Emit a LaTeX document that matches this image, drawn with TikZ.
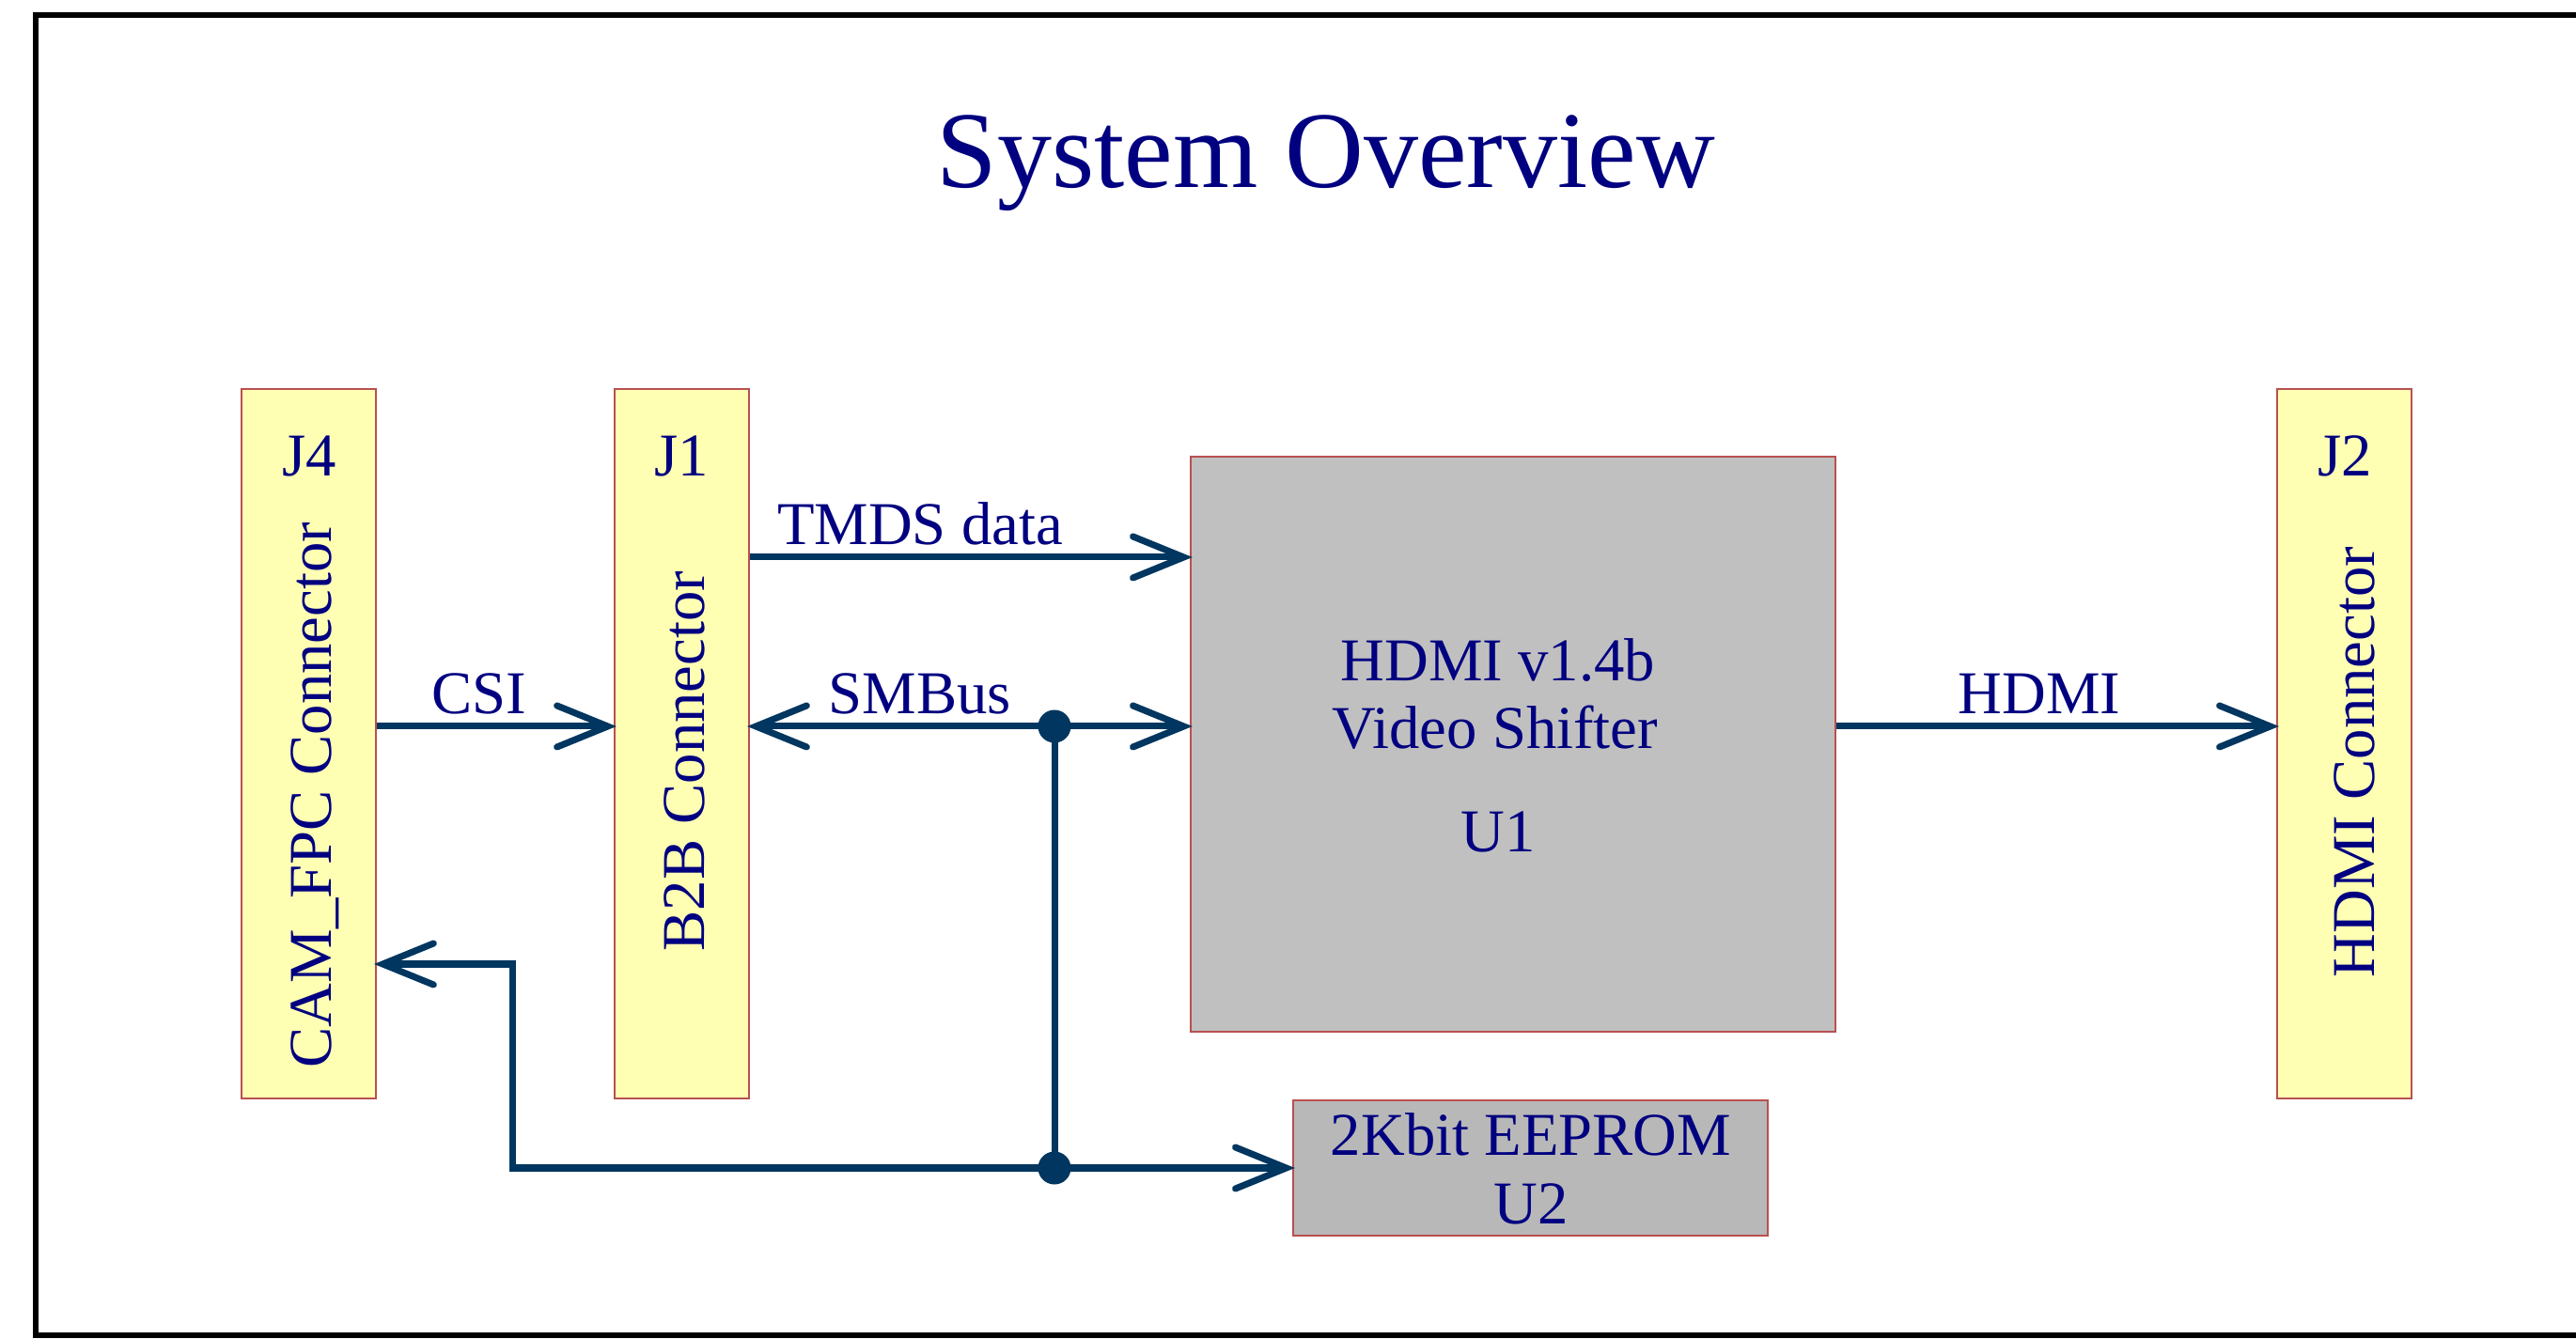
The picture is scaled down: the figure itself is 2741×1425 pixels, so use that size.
\documentclass[tikz,border=0pt]{standalone}
\usepackage{fontspec}
\setmainfont{Liberation Serif}
\usepackage{tikz}
\usetikzlibrary{arrows.meta, positioning, calc}

\definecolor{textnavy}{HTML}{000080}
\definecolor{wireblue}{HTML}{00365F}
\definecolor{connyellow}{HTML}{FFFFB4}
\definecolor{boxedge}{HTML}{B85050}
\definecolor{chipgray}{HTML}{C0C0C0}
\definecolor{romgray}{HTML}{B8B8B8}

\begin{document}
\begin{tikzpicture}[
            x=0.01cm, y=-0.01cm,
            >={Straight Barb[length=0.54cm, width=0.44cm, line cap=round]},
            connector/.style={rectangle, draw=boxedge, line width=0.02cm, fill=connyellow, minimum width=1.43cm, minimum height=7.55cm, inner sep=0pt},
            chip/.style={rectangle, draw=boxedge, line width=0.02cm, inner sep=0pt},
            wire/.style={draw=wireblue, line width=0.07cm},
            arrow/.style={wire, ->, shorten >=-0.03cm},
            dblarrow/.style={wire, <->, shorten >=-0.03cm, shorten <=-0.03cm},
            lbl/.style={text=textnavy, font=\fontsize{18.4}{22}\selectfont, inner sep=0pt, anchor=base},
            junction/.style={circle, fill=wireblue, minimum size=0.35cm, inner sep=0pt}
        ]

\useasboundingbox (0,0) rectangle (2741,1425);

% Frame
            \draw[line width=0.06cm] (2741,16) -- (38,16) -- (38,1421) -- (2741,1421);

% Title
            \node[lbl, font=\fontsize{33}{40}\selectfont] (title) at (1411,200) {System Overview};

% Connectors
            \node[connector] (j4) at (328.5,791.5) {};
            \node[connector] (j1) at (725.5,791.5) {};
            \node[connector] (j2) at (2494.5,791.5) {};

            \node[lbl] (j4ref) at (329,507) {J4};
            \node[lbl] (j1ref) at (725,507) {J1};
            \node[lbl] (j2ref) at (2495,507) {J2};
            \node[lbl, rotate=90] (j4name) at (352,846) {CAM\_FPC Connector};
            \node[lbl, rotate=90] (j1name) at (749,810) {B2B Connector};
            \node[lbl, rotate=90] (j2name) at (2526,811) {HDMI Connector};

% Chips
            \node[chip, fill=chipgray, minimum width=6.86cm, minimum height=6.12cm] (u1) at (1610,792) {};
            \node[chip, fill=romgray, minimum width=5.05cm, minimum height=1.44cm] (u2) at (1628.5,1243) {};

            \node[lbl] (u1line1) at (1594,725) {HDMI v1.4b};
            \node[lbl] (u1line2) at (1591,797) {Video Shifter};
            \node[lbl] (u1ref) at (1594,907) {U1};
            \node[lbl] (u2line1) at (1629,1230) {2Kbit EEPROM};
            \node[lbl] (u2ref) at (1629,1303) {U2};

% Signals
            \coordinate (tmds) at (0,593);
            \coordinate (bus) at (0,773);
            \coordinate (tap1) at (1122,773);
            \coordinate (camret) at (545,1026);
            \coordinate (tap2) at (tap1 |- u2.west);

            \draw[arrow] (j4.east |- bus) -- (j1.west |- bus);
            \draw[arrow] (j1.east |- tmds) -- (u1.west |- tmds);
            \draw[dblarrow] (j1.east |- bus) -- (u1.west |- bus);
            \draw[arrow] (u1.east |- bus) -- (j2.west |- bus);
            \draw[wire] (tap1) -- (tap2);
            \draw[dblarrow] (j4.east |- camret) -- (camret) -- (camret |- u2.west) -- (u2.west);

            \node[junction] (dot1) at (tap1) {};
            \node[junction] (dot2) at (tap2) {};

            \node[lbl] (csi) at (510,760) {CSI};
            \node[lbl] (tmdsname) at (979,580) {TMDS data};
            \node[lbl] (smbus) at (979,760) {SMBus};
            \node[lbl] (hdmi) at (2170,760) {HDMI};

\end{tikzpicture}
\end{document}
